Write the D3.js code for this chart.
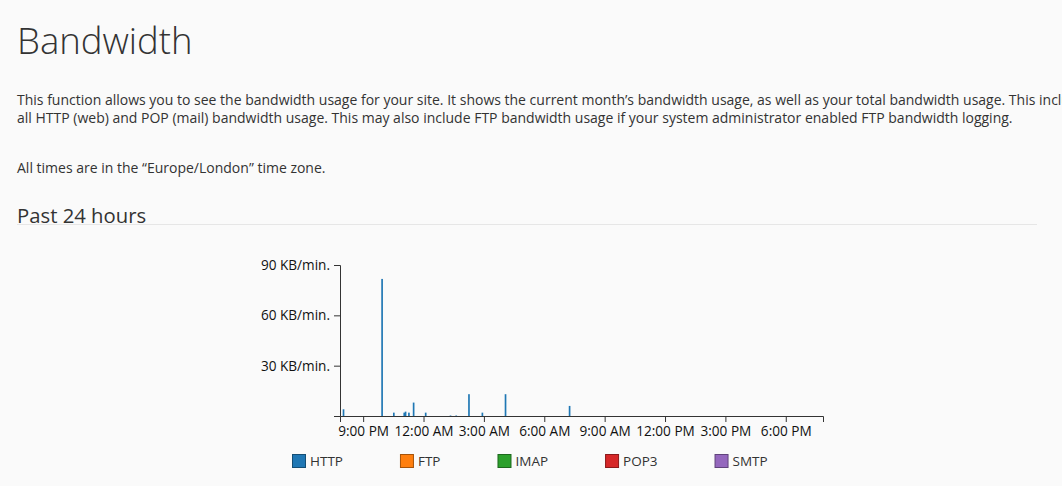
<!DOCTYPE html>
<html>
<head>
<meta charset="utf-8">
<script src="https://cdn.jsdelivr.net/npm/d3@7"></script>
<style>
  body { margin: 0; background: #fafafa; font-family: "Open Sans", sans-serif; color: #333; overflow: hidden; }
  .page { position: relative; width: 1062px; height: 486px; }
  h1 { position: absolute; left: 17px; top: 15px; margin: 0; font-size: 36.5px; font-weight: 300; }
  .desc { position: absolute; left: 17px; top: 91px; margin: 0; font-size: 14px; line-height: 18px; white-space: nowrap; }
  .tz { position: absolute; left: 17px; top: 158px; margin: 0; font-size: 14px; white-space: nowrap; }
  h2 { position: absolute; left: 17px; top: 201px; margin: 0; font-size: 20.3px; font-weight: 400; }
  .rule { position: absolute; left: 17px; top: 224px; width: 1020px; height: 1px; background: #e6e6e6; }
  svg { position: absolute; left: 0; top: 0; }
  .axis text { font-family: "Open Sans", sans-serif; font-size: 13.6px; fill: #111; }
</style>
</head>
<body>
<div class="page">
  <h1>Bandwidth</h1>
  <p class="desc">This function allows you to see the bandwidth usage for your site. It shows the current month’s bandwidth usage, as well as your total bandwidth usage. This includes<br>all HTTP (web) and POP (mail) bandwidth usage. This may also include FTP bandwidth usage if your system administrator enabled FTP bandwidth logging.</p>
  <p class="tz">All times are in the “Europe/London” time zone.</p>
  <h2>Past 24 hours</h2>
  <div class="rule"></div>
  <svg id="chart" width="1062" height="486"></svg>
</div>
<script>
// 24 hour window, 5 minute buckets
const windowStart = "2024-05-20 19:51"
const windowEnd = "2024-05-21 19:51"

const httpTimes = ["2024-05-20 19:59", "2024-05-20 21:54", "2024-05-20 22:29", "2024-05-20 23:00",
    "2024-05-20 23:04", "2024-05-20 23:14", "2024-05-20 23:28", "2024-05-21 00:04",
    "2024-05-21 01:18", "2024-05-21 01:35", "2024-05-21 02:13", "2024-05-21 02:53",
    "2024-05-21 04:02", "2024-05-21 07:13"]
const httpValues = [4, 81.7, 2, 2, 2.6, 2, 8, 2, 0.3, 0.3, 13, 2, 13, 6]

const seriesNames = ["HTTP", "FTP", "IMAP", "POP3", "SMTP"]
const seriesColors = ["#1f77b4", "#ff7f0e", "#2ca02c", "#d62728", "#9467bd"]
const yTicks = [30, 60, 90]

const parse = d3.timeParse("%Y-%m-%d %H:%M")
const bars = httpTimes.map((t, i) => ({ time: parse(t), value: httpValues[i] }))

const svg = d3.select("#chart")

const x = d3.scaleTime()
    .domain([parse(windowStart), parse(windowEnd)])
    .range([340, 823])

const y = d3.scaleLinear()
    .domain([0, 90])
    .range([416, 265])

// bars
svg.append("g")
    .selectAll("rect")
    .data(bars)
    .enter()
    .append("rect")
    .attr("x", d => x(d.time))
    .attr("width", d => x(d3.timeMinute.offset(d.time, 5)) - x(d.time))
    .attr("y", d => y(d.value))
    .attr("height", d => y(0) - y(d.value))
    .attr("fill", seriesColors[0])

// axes
svg.append("g")
    .attr("class", "axis")
    .attr("transform", "translate(0,416)")
    .call(d3.axisBottom(x)
        .ticks(d3.timeHour.every(3))
        .tickFormat(d3.timeFormat("%-I:%M %p"))
        .tickSizeOuter(6)
        .tickPadding(4))

svg.append("g")
    .attr("class", "axis")
    .attr("transform", "translate(340,0)")
    .call(d3.axisLeft(y)
        .tickValues(yTicks)
        .tickFormat(d => d + " KB/min.")
        .tickSizeOuter(6)
        .tickPadding(4))

// legend, laid out in a row after each label
const legend = svg.append("g").attr("transform", "translate(292,454)")
let lx = 0
seriesNames.forEach(function (name, i) {
    const item = legend.append("g").attr("transform", `translate(${lx},0)`)
    item.append("rect")
        .attr("x", 0.5).attr("y", 0.5)
        .attr("width", 13).attr("height", 13)
        .attr("fill", seriesColors[i])
        .attr("stroke", d3.color(seriesColors[i]).darker(1.2))
    const label = item.append("text")
        .attr("x", 18).attr("y", 7)
        .attr("dy", "0.35em")
        .style("font-family", "Open Sans, sans-serif")
        .style("font-size", "13.5px")
        .style("fill", "#333")
        .text(name)
    lx += 18 + label.node().getComputedTextLength() + 57
})
</script>
</body>
</html>
